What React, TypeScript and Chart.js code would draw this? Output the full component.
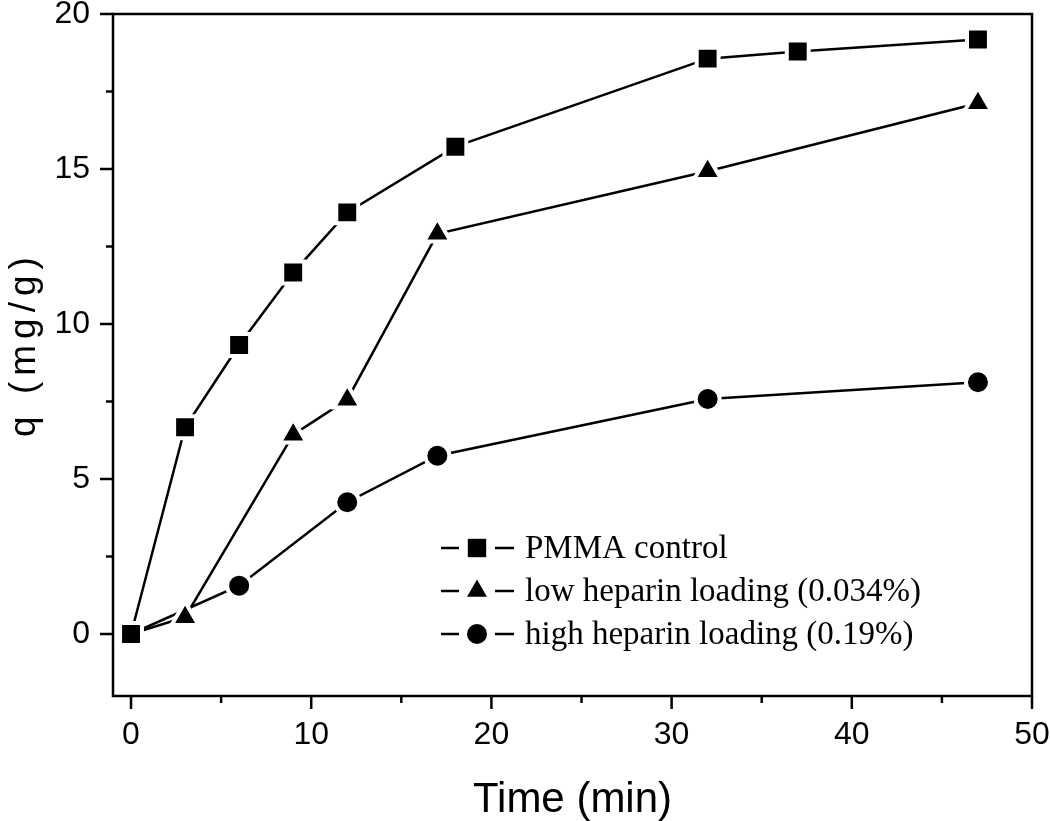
import React, { useEffect, useRef } from 'react';
import { Chart, registerables } from 'chart.js';
import { drawPoint } from 'chart.js/helpers';

Chart.register(...registerables);

const SERIES_LABELS = ['PMMA control', 'low heparin loading (0.034%)', 'high heparin loading (0.19%)'];
const POINT_STYLES = ['rect', 'triangle', 'circle'];
const X_TITLE = 'Time (min)';
const Y_TITLE = 'q (mg/g)';

const TIME_PMMA = [0, 3, 6, 9, 12, 18, 32, 37, 47];
const Q_PMMA = [0, 6.67, 9.32, 11.66, 13.6, 15.72, 18.56, 18.79, 19.18];

const TIME_LOW = [0, 3, 9, 12, 17, 32, 47];
const Q_LOW = [0, 0.54, 6.43, 7.56, 12.91, 14.93, 17.12];

const TIME_HIGH = [0, 6, 12, 17, 32, 47];
const Q_HIGH = [0, 1.56, 4.25, 5.75, 7.58, 8.12];

const X_MAJOR = [0, 10, 20, 30, 40, 50];
const X_MINOR = [5, 15, 25, 35, 45];
const Y_MAJOR = [0, 5, 10, 15, 20];
const Y_MINOR = [2.5, 7.5, 12.5, 17.5];

const SANS = '"Liberation Sans", Arial, sans-serif';
const SERIF = '"Liberation Serif", "Times New Roman", serif';

const toPoints = (xs: number[], ys: number[]) => xs.map((x, i) => ({ x, y: ys[i] }));

const framePlugin = {
  id: 'frame',
  beforeDatasetsDraw(chart: any) {
    const { ctx, chartArea } = chart;
    const { left, right, top, bottom } = chartArea;
    const xs = chart.scales.x;
    const ys = chart.scales.y;
    ctx.save();
    ctx.strokeStyle = '#000';
    ctx.lineWidth = 2.5;
    ctx.lineCap = 'butt';
    ctx.strokeRect(left, top, right - left, bottom - top);
    const seg = (x1: number, y1: number, x2: number, y2: number) => {
      ctx.beginPath();
      ctx.moveTo(x1, y1);
      ctx.lineTo(x2, y2);
      ctx.stroke();
    };
    X_MAJOR.forEach((v) => { const p = xs.getPixelForValue(v); seg(p, bottom, p, bottom + 13); });
    X_MINOR.forEach((v) => { const p = xs.getPixelForValue(v); seg(p, bottom, p, bottom + 7); });
    Y_MAJOR.forEach((v) => { const p = ys.getPixelForValue(v); seg(left, p, left - 13, p); });
    Y_MINOR.forEach((v) => { const p = ys.getPixelForValue(v); seg(left, p, left - 7, p); });

    // y-axis title (letter-spaced, rotated)
    ctx.translate(25, 347);
    ctx.rotate(-Math.PI / 2);
    ctx.font = '37px ' + SANS;
    try { (ctx as any).letterSpacing = '6px'; } catch (e) { /* ignore */ }
    ctx.fillStyle = '#000';
    ctx.textAlign = 'center';
    ctx.textBaseline = 'middle';
    ctx.fillText(Y_TITLE, 3, 0);
    try { (ctx as any).letterSpacing = '0px'; } catch (e) { /* ignore */ }
    ctx.restore();
  },
};

const LEGEND_RADII = [13, 11.5, 10];

const legendPlugin = {
  id: 'customLegend',
  afterDraw(chart: any) {
    const { ctx } = chart;
    ctx.save();
    chart.data.datasets.forEach((ds: any, i: number) => {
      const y = 548 + i * 43;
      ctx.strokeStyle = '#000';
      ctx.fillStyle = '#000';
      ctx.lineWidth = 2.5;
      ctx.beginPath();
      ctx.moveTo(441, y);
      ctx.lineTo(459, y);
      ctx.moveTo(495, y);
      ctx.lineTo(514, y);
      ctx.stroke();
      drawPoint(ctx, { pointStyle: ds.pointStyle, radius: LEGEND_RADII[i], rotation: 0, borderWidth: 0 }, 477, y);
      ctx.font = '33px ' + SERIF;
      ctx.textBaseline = 'middle';
      ctx.textAlign = 'left';
      ctx.fillText(ds.label, 525, y + 1);
    });
    ctx.restore();
  },
};

export default function App() {
  const canvasRef = useRef<HTMLCanvasElement | null>(null);

  useEffect(() => {
    const canvas = canvasRef.current;
    if (!canvas) return;
    const common = {
      borderColor: '#000',
      backgroundColor: '#000',
      borderWidth: 2.5,
      pointBackgroundColor: '#000',
      pointBorderColor: '#fff',
      pointBorderWidth: 4,
      tension: 0,
      showLine: true,
    };
    const chart = new Chart(canvas, {
      type: 'scatter',
      data: {
        datasets: [
          { ...common, label: SERIES_LABELS[0], data: toPoints(TIME_PMMA, Q_PMMA), pointStyle: POINT_STYLES[0], pointRadius: 15.5 },
          { ...common, label: SERIES_LABELS[1], data: toPoints(TIME_LOW, Q_LOW), pointStyle: POINT_STYLES[1], pointRadius: 15.5 },
          { ...common, label: SERIES_LABELS[2], data: toPoints(TIME_HIGH, Q_HIGH), pointStyle: POINT_STYLES[2], pointRadius: 12 },
        ] as any,
      },
      options: {
        animation: false,
        responsive: false,
        devicePixelRatio: 1,
        layout: { autoPadding: false, padding: { top: 14, right: 18, left: 0, bottom: 0 } },
        plugins: { legend: { display: false }, tooltip: { enabled: false } },
        scales: {
          x: {
            type: 'linear',
            min: -1,
            max: 50,
            grid: { display: false, drawTicks: false },
            border: { display: false },
            afterBuildTicks: (scale: any) => { scale.ticks = X_MAJOR.map((v) => ({ value: v })); },
            afterFit: (scale: any) => { scale.height = 125; scale.paddingLeft = 0; scale.paddingRight = 0; },
            ticks: { color: '#000', padding: 20, font: { family: SANS, size: 32 }, maxRotation: 0, autoSkip: false, callback: (v: any) => String(v) },
            title: { display: true, text: X_TITLE, color: '#000', font: { family: SANS, size: 42, lineHeight: 1 }, padding: { top: 0, bottom: 0 } },
          },
          y: {
            type: 'linear',
            min: -2,
            max: 20,
            grid: { display: false, drawTicks: false },
            border: { display: false },
            afterBuildTicks: (scale: any) => { scale.ticks = Y_MAJOR.map((v) => ({ value: v })); },
            afterFit: (scale: any) => { scale.width = 113; scale.paddingTop = 0; scale.paddingBottom = 0; },
            ticks: { color: '#000', padding: 23, font: { family: SANS, size: 32 }, autoSkip: false, callback: (v: any) => String(v) },
            title: { display: false },
          },
        },
      } as any,
      plugins: [framePlugin, legendPlugin],
    });
    return () => chart.destroy();
  }, []);

  return (
    <div style={{ position: 'absolute', left: 0, top: 0, width: 1050, height: 821, background: '#fff' }}>
      <canvas ref={canvasRef} width={1050} height={821} />
    </div>
  );
}
